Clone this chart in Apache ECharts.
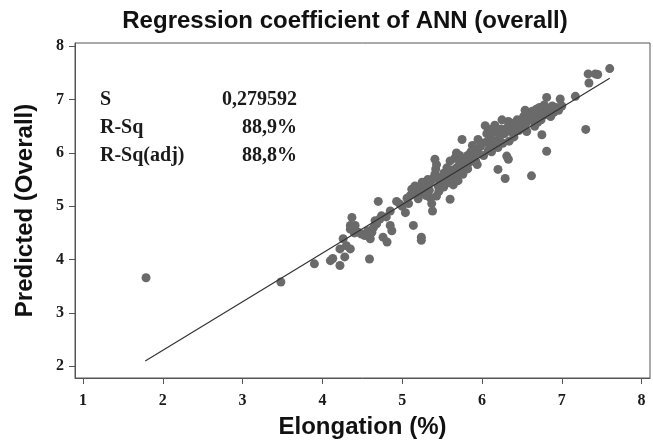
<!DOCTYPE html>
<html><head><meta charset="utf-8">
<script src="https://cdn.jsdelivr.net/npm/echarts@6/dist/echarts.min.js"></script>
<style>html,body{margin:0;padding:0;background:#fff}#c{width:653px;height:444px}</style>
</head><body><div id="c"></div>
<script>
var titleText = 'Regression coefficient of ANN (overall)';
var xName = 'Elongation (%)';
var yName = 'Predicted (Overall)';
var xTicks = [1, 2, 3, 4, 5, 6, 7, 8];
var yTicks = [2, 3, 4, 5, 6, 7, 8];
var statLabels = ['S', 'R-Sq', 'R-Sq(adj)'];
var statValues = ['0,279592', '88,9%', '88,8%'];
var fitX = [1.78, 7.60];
var fitY = [2.10, 7.40];
var points = [
 [1.79,3.66],[3.48,3.58],[3.90,3.92],[4.10,3.98],[4.13,4.02],[4.22,3.89],[4.28,4.05],[4.22,4.20],[4.30,4.26],[4.35,4.20],
 [4.26,4.39],[4.35,4.57],[4.37,4.79],[4.35,4.64],[4.41,4.64],[4.45,4.51],[4.49,4.48],[4.57,4.54],[4.62,4.51],[4.60,4.39],
 [4.59,4.01],[4.70,5.09],[4.74,4.82],[4.72,4.76],[4.66,4.73],[4.68,4.67],[4.85,4.91],[4.85,4.64],[4.87,4.54],[4.76,4.42],
 [4.81,4.33],[4.93,5.09],[4.97,5.04],[4.53,4.45],[4.40,4.50],[4.64,4.60],[4.80,4.80],
 [5.04,4.88],[5.14,4.64],[5.24,4.42],[5.24,4.36],[5.38,4.91],[5.06,5.15],[5.10,5.20],[5.14,5.28],[5.18,5.22],
 [5.22,5.30],[5.26,5.25],[5.30,5.35],[5.34,5.30],[5.12,5.32],[5.20,5.14],[5.28,5.40],[5.35,5.45],[5.39,5.52],[5.41,5.60],
 [5.42,5.70],[5.43,5.78],[5.41,5.88],[5.45,5.38],[5.48,5.47],[5.50,5.55],[5.35,5.16],[5.43,5.19],[5.32,5.50],[5.25,5.45],
 [5.16,5.38],[5.08,5.05],[5.00,5.00],[5.37,5.05],[5.46,5.28],[5.52,5.36],[5.30,5.20],
 [5.52,5.62],[5.55,5.50],[5.58,5.58],[5.60,5.85],[5.62,5.68],[5.60,5.13],[5.65,5.55],[5.68,5.72],[5.70,5.62],[5.72,5.80],
 [5.75,6.25],[5.74,5.70],[5.78,5.88],[5.80,5.75],[5.82,5.95],[5.84,5.82],[5.86,6.02],[5.88,5.90],[5.90,6.08],[5.92,5.85],
 [5.95,6.25],[5.95,6.00],[5.98,6.12],[5.56,5.72],[5.66,5.90],[5.72,5.95],[5.64,5.40],[5.70,5.48],[5.58,5.44],[5.76,5.60],
 [5.82,5.70],[5.88,6.14],[5.68,6.00],[5.94,5.78],
 [6.02,5.95],[6.04,6.51],[6.05,6.20],[6.08,6.05],[6.10,6.30],[6.12,6.15],[6.14,6.38],[6.16,6.22],[6.18,6.40],[6.20,5.69],
 [6.22,6.30],[6.24,6.45],[6.25,6.62],[6.26,6.18],[6.28,6.36],[6.29,5.52],[6.31,5.94],[6.33,5.88],[6.33,6.59],[6.32,6.48],
 [6.36,6.40],[6.38,6.55],[6.40,6.30],[6.42,6.50],[6.44,6.62],[6.46,6.42],[6.48,6.58],[6.06,6.36],[6.12,6.02],[6.20,6.10],
 [6.00,6.18],[6.16,6.52],[6.34,6.22],[6.10,6.44],
 [6.50,6.48],[6.52,6.68],[6.55,6.55],[6.58,6.72],[6.60,6.62],[6.62,5.57],[6.63,6.78],[6.65,6.65],[6.68,6.82],[6.70,6.70],
 [6.72,6.85],[6.74,6.62],[6.75,6.34],[6.76,6.78],[6.78,6.90],[6.80,6.72],[6.81,7.04],[6.81,6.03],[6.84,6.82],[6.86,6.68],
 [6.88,6.88],[6.90,6.76],[6.93,6.85],[6.96,6.80],[6.98,7.01],[7.00,6.88],[6.56,6.40],[6.66,6.50],[6.54,6.80],[6.70,6.58],
 [7.17,7.06],[7.30,6.44],[7.33,7.48],[7.42,7.48],[7.45,7.47],[7.34,7.31],[7.60,7.58]
];

var graphics = [{type: 'text', x: 345, y: 21,
  style: {text: titleText, font: 'bold 24px "Liberation Sans"', fill: '#111', textAlign: 'center', textVerticalAlign: 'middle'}}];
for (var i = 0; i < statLabels.length; i++) {
  graphics.push({type: 'text', x: 100, y: 100 + i * 28,
    style: {text: statLabels[i], font: 'bold 20px "Liberation Serif"', fill: '#1a1a1a', textAlign: 'left', textVerticalAlign: 'middle'}});
  graphics.push({type: 'text', x: 297, y: 100 + i * 28,
    style: {text: statValues[i], font: 'bold 20px "Liberation Serif"', fill: '#1a1a1a', textAlign: 'right', textVerticalAlign: 'middle'}});
}

var tickFont = {fontFamily: 'Liberation Serif', fontWeight: 'bold', color: '#1a1a1a', fontSize: 16};
var nameFont = {fontFamily: 'Liberation Sans', fontWeight: 'bold', fontSize: 24, color: '#111'};

var chart = echarts.init(document.getElementById('c'), null, {renderer: 'canvas'});
chart.setOption({
  animation: false,
  backgroundColor: '#fff',
  grid: {left: 75, right: 3, top: 43, bottom: 64, show: true, borderColor: '#555', borderWidth: 1, backgroundColor: 'transparent'},
  xAxis: {type: 'value', min: 0.9, max: 8.105,
    name: xName, nameLocation: 'middle', nameGap: 37, nameTextStyle: nameFont,
    axisLine: {show: true, lineStyle: {color: '#555', width: 1}},
    axisTick: {show: true, customValues: xTicks, length: 6, lineStyle: {color: '#555'}},
    axisLabel: Object.assign({customValues: xTicks, margin: 15}, tickFont),
    splitLine: {show: false}},
  yAxis: {type: 'value', min: 1.78, max: 8.06,
    name: yName, nameLocation: 'middle', nameGap: 38, nameTextStyle: nameFont,
    axisLine: {show: true, lineStyle: {color: '#555', width: 1}},
    axisTick: {show: true, customValues: yTicks, length: 6, lineStyle: {color: '#555'}},
    axisLabel: Object.assign({customValues: yTicks, margin: 11}, tickFont),
    splitLine: {show: false}},
  graphic: graphics,
  series: [
    {type: 'scatter', data: points, symbolSize: 9, itemStyle: {color: '#6a6a6a', opacity: 1}, z: 2},
    {type: 'line', data: [[fitX[0], fitY[0]], [fitX[1], fitY[1]]], showSymbol: false, symbol: 'none',
      lineStyle: {color: '#333', width: 1.2}, z: 3}
  ]
});
</script></body></html>
